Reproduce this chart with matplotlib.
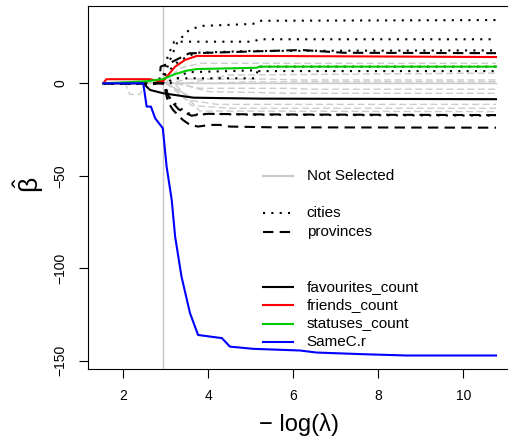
import numpy as np
import matplotlib
matplotlib.use("Agg")
import matplotlib.pyplot as plt
from matplotlib.lines import Line2D

plt.rcParams['font.family'] = ['Liberation Sans', 'DejaVu Sans']
plt.rcParams['mathtext.default'] = 'regular'

# lambda where the vertical reference line sits
lam_line = 2.94

# coloured (selected) variables
fav_x = [1.53, 2.47, 2.63, 2.94, 3.65, 5.22, 10.77]
fav_y = [0, 0, -3.6, -5.4, -7.8, -8.3, -8.6]
friends_x = [1.53, 1.6, 2.63, 2.78, 2.94, 3.22, 3.45, 3.73, 5.14, 10.77]
friends_y = [0, 2.2, 2.2, 1.4, 1.2, 9.0, 12.6, 14.8, 14.8, 14.2]
statuses_x = [1.53, 2.55, 2.94, 3.22, 3.49, 3.73, 5.14, 5.2, 10.77]
statuses_y = [0, 1.1, 2.3, 5.0, 6.8, 7.7, 8.4, 9.0, 9.0]
samec_x = [1.53, 2.47, 2.55, 2.65, 2.75, 2.93, 3.02, 3.14, 3.22, 3.37, 3.57,
           3.76, 4.32, 4.51, 5.06, 6.16, 6.55, 7.65, 8.67, 10.77]
samec_y = [0, 0, -12.6, -12.6, -18.9, -24.3, -45.1, -63.1, -82.9, -104.5, -124.3,
           -136.1, -137.8, -142.4, -143.6, -144.5, -145.6, -146.5, -147.2, -147.2]

# cities (dotted)
cities = [
  ([1.53, 2.9, 3.1, 3.26, 3.49, 3.8, 5.05, 5.2, 10.77], [0, 0, 12.6, 21.6, 27.9, 31.0, 32.1, 33.8, 34.2]),
  ([1.53, 2.9, 3.05, 3.2, 5.05, 5.2, 10.77], [0, 0, 15, 22.5, 22.5, 23.8, 23.8]),
  ([1.53, 2.9, 3.0, 3.3, 3.7, 5.0, 10.77], [0, 0, 5, 12, 16.5, 17.5, 17.8]),
  ([1.53, 3.0, 3.2, 5.1, 5.2, 10.77], [0, 0, 2.7, 2.7, 9.0, 9.0]),
  ([1.53, 3.1, 3.5, 5.1, 5.2, 10.77], [0, 0, 6.0, 7.0, 6.6, 6.6]),
  ([1.53, 2.95, 3.1, 3.3, 3.6, 4.0, 5.0, 10.77], [0, 0, -8, -13, -17, -16.5, -17, -17.5]),
]

# provinces (dashed)
provinces = [
  ([1.53, 2.8, 2.85, 2.88, 3.1, 3.55, 5.0, 6.2, 7.2, 10.77], [0, 0, 1.8, 9, 11, 16.2, 17.2, 18.0, 16.5, 16.3]),
  ([1.53, 2.95, 3.1, 3.3, 3.6, 4.0, 5.0, 10.77], [0, 0, -9, -14, -17.5, -16.5, -16.8, -17.2]),
  ([1.53, 2.95, 3.05, 3.17, 3.4, 3.57, 3.76, 4.04, 4.27, 4.5, 5.5, 10.77],
   [0, 0, -10, -14.4, -19.8, -22.5, -23.4, -22.5, -22.5, -23.4, -23.8, -24.0]),
]

# not selected (grey)
grey_solid = [
  ([1.53, 10.77], [0, 0]),
  ([1.53, 3.0, 3.6, 5.2, 10.77], [0, 0, -7.5, -8.2, -8.3]),
]
grey_dashed = [
  ([1.53, 2.05, 2.15, 2.4, 2.5, 10.77], [0, 0, -6, -6, 0, 0]),
  ([1.53, 3.0, 3.3, 3.8, 10.77], [0, 0, 8, 10.8, 10.8]),
  ([1.53, 3.1, 3.5, 5.5, 6.0, 10.77], [0, 0, 2.3, 2.3, 1.8, 1.8]),
  ([1.53, 3.2, 3.8, 5.9, 6.4, 10.77], [0, 0, -2.7, -2.7, -3.2, -3.2]),
  ([1.53, 3.3, 4.0, 6.0, 10.77], [0, 0, -4.5, -5.4, -5.4]),
  ([1.53, 3.0, 3.5, 4.2, 10.77], [0, 0, -9, -11.4, -11.4]),
  ([1.53, 3.1, 3.6, 4.5, 10.77], [0, 0, -12, -13.5, -13.5]),
  ([1.53, 3.2, 3.8, 10.77], [0, 0, -15, -15.3]),
  ([1.53, 3.5, 4.5, 10.77], [0, 0, 4.5, 5.5]),
  ([1.53, 4.0, 5.0, 10.77], [0, 0, 0.8, 0.8]),
]

legend_labels = ['Not Selected', 'cities', 'provinces',
                 'favourites_count', 'friends_count', 'statuses_count', 'SameC.r']

W, H = 508, 442
fig = plt.figure(figsize=(W/100, H/100), dpi=100)
L, R, T, B = 88, 511.3, 6, 369
ax = fig.add_axes([L/W, 1-B/H, (R-L)/W, (B-T)/H])

grey = '#cccccc'
ax.axvline(lam_line, color='#c8c8c8', lw=1.0, zorder=1)
for xs, ys in grey_solid:
  ax.plot(xs, ys, color='#c8c8c8', lw=1.0, zorder=2)
for xs, ys in grey_dashed:
  ax.plot(xs, ys, color=grey, lw=1.0, dashes=(5, 2.5), zorder=2)
for xs, ys in cities:
  ax.plot(xs, ys, color='black', lw=1.5, dashes=(1, 3), zorder=3)
for xs, ys in provinces:
  ax.plot(xs, ys, color='black', lw=1.5, dashes=(5, 3), zorder=3)
ax.plot(fav_x, fav_y, color='black', lw=1.5, zorder=4)
ax.plot(friends_x, friends_y, color='#ff0000', lw=1.5, zorder=4)
ax.plot(statuses_x, statuses_y, color='#00cd00', lw=1.5, zorder=4)
ax.plot(samec_x, samec_y, color='#0000ff', lw=1.5, zorder=4)

ax.set_xlim(1.17, 11.13)
ax.set_ylim(-154.5, 41.8)
ax.set_xticks([2, 4, 6, 8, 10])
ax.set_yticks([0, -50, -100, -150])
ax.set_yticklabels(['0', '\u221250', '\u2212100', '\u2212150'])
ax.tick_params(axis='both', labelsize=10, length=6.5, width=0.8)
ax.tick_params(axis='x', pad=8)
ax.tick_params(axis='y', labelrotation=90, pad=13.5)
for lab in ax.get_yticklabels():
  lab.set_verticalalignment('center')
  lab.set_horizontalalignment('center')
for s in ax.spines.values():
  s.set_linewidth(0.8)

# legend drawn by hand, rows in pixel coords
rows = [175.7, 212.7, 231.7, 286.7, 305, 324, 342.3]
styles = [dict(color='#c8c8c8'), dict(color='black', dashes=(1, 3)),
          dict(color='black', dashes=(5, 3)), dict(color='black'),
          dict(color='#ff0000'), dict(color='#00cd00'), dict(color='#0000ff')]
for yy, lab, st in zip(rows, legend_labels, styles):
  fig.add_artist(Line2D([263/W, 293/W], [1-yy/H, 1-yy/H], lw=1.5,
                        transform=fig.transFigure, **st))
  fig.text(306.7/W, 1-yy/H, lab, fontsize=11, va='center', ha='left')

fig.text(299/W, 1-425/H, '\u2212 log(\u03bb)', fontsize=17, ha='center', va='center')
fig.text(29/W, 1-185/H, r'$\hat{\beta}$', fontsize=19, rotation=90, ha='center', va='center')

fig.savefig('out.png', dpi=100)
